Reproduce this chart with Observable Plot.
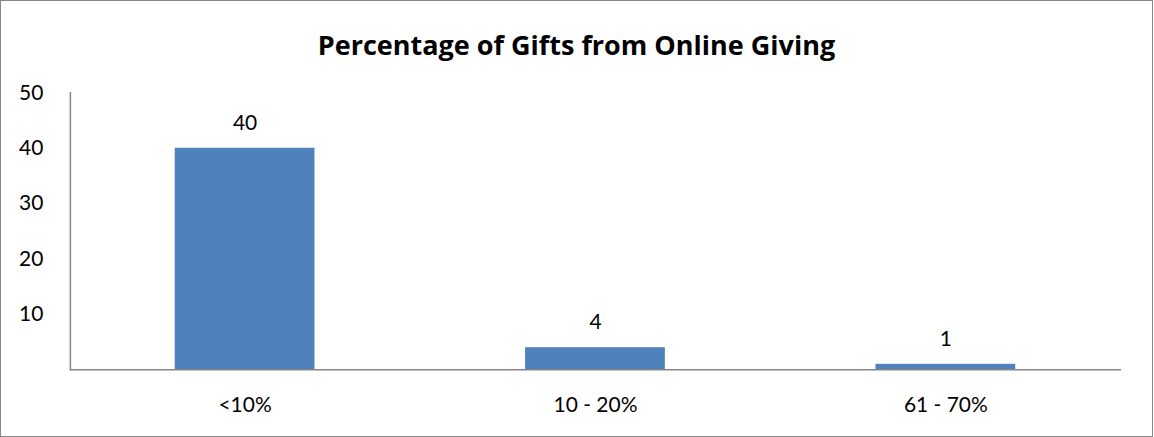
<!DOCTYPE html>
<html>
<head>
<meta charset="utf-8">
<script src="https://cdn.jsdelivr.net/npm/d3@7"></script>
<script src="https://cdn.jsdelivr.net/npm/@observablehq/plot@0.6"></script>
<style>
  html, body { margin: 0; padding: 0; background: #fff; }
  #wrap { position: relative; width: 1153px; height: 437px; box-sizing: border-box; border: 1px solid #878787; overflow: hidden; }
  #title { position: absolute; left: 0; right: 0; top: 28px; text-align: center; font-family: "Open Sans", Lato, sans-serif; font-weight: bold; font-size: 27px; color: #000; margin: 0; line-height: 32px; }
  #chart { position: absolute; left: -1px; top: -1px; }
</style>
</head>
<body>
<div id="wrap">
  <h2 id="title">Percentage of Gifts from Online Giving</h2>
  <div id="chart"></div>
</div>
<script>
const categories = ["<10%", "10 - 20%", "61 - 70%"];
const values = [40, 4, 1];
const yTicks = [10, 20, 30, 40, 50];

const data = categories.map((c, i) => ({category: c, value: values[i]}));

const plot = Plot.plot({
  width: 1154,
  height: 437,
  marginLeft: 70,
  marginRight: 31,
  marginTop: 92.5,
  marginBottom: 67,
  style: {fontFamily: "Lato, 'Open Sans', sans-serif", fontSize: "21px", color: "#000", background: "transparent"},
  x: {domain: categories, paddingInner: 0.6, paddingOuter: 0.3, label: null},
  y: {domain: [0, 50], label: null},
  marks: [
    Plot.barY(data, {x: "category", y: "value", fill: "#4f81bd"}),
    Plot.text(data, {x: "category", y: "value", text: d => String(d.value), dy: -25, fontSize: 21, fill: "#000"}),
    Plot.axisY({ticks: yTicks, tickSize: 0, tickPadding: 27, label: null, fill: "#000"}),
    Plot.axisX({tickSize: 0, tickPadding: 27.5, label: null, fill: "#000"}),
    Plot.ruleY([0], {stroke: "#868686", strokeWidth: 1.5}),
    Plot.frame({anchor: "left", stroke: "#868686", strokeWidth: 1.5})
  ]
});
document.getElementById("chart").appendChild(plot);
</script>
</body>
</html>
